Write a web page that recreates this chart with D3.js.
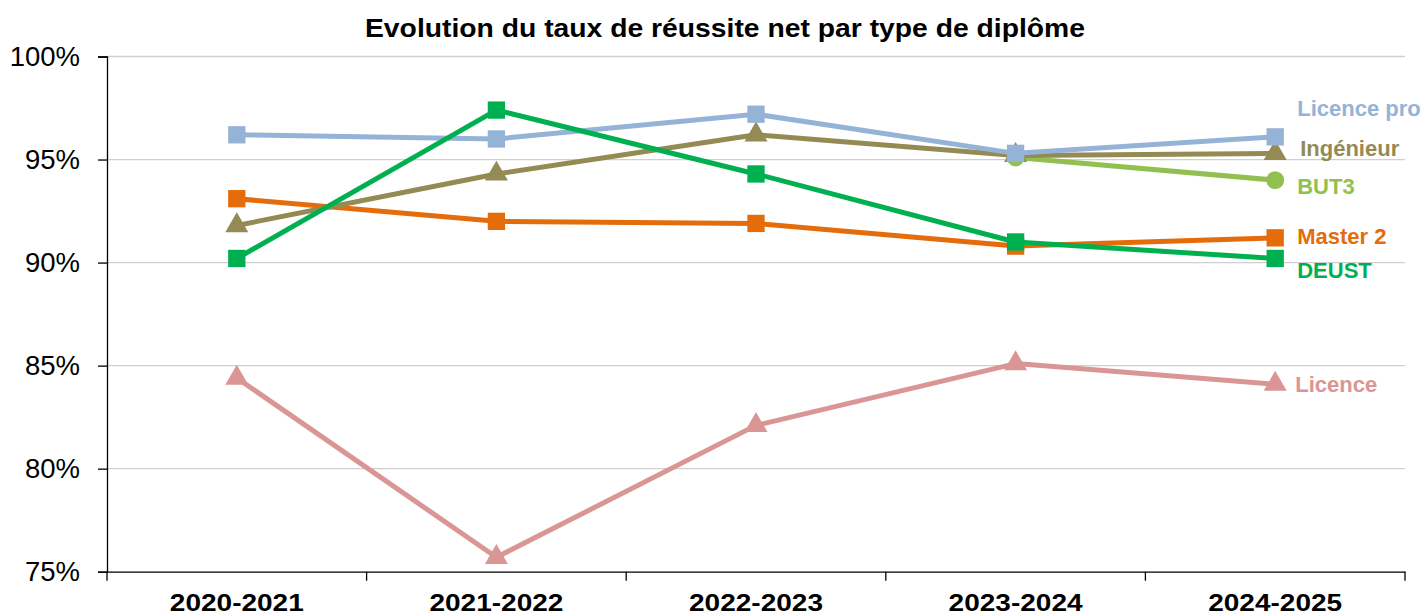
<!DOCTYPE html>
<html><head><meta charset="utf-8">
<script src="https://cdn.jsdelivr.net/npm/d3@7"></script>
<style>body{margin:0;background:#fff;font-family:Arial,"Liberation Sans",sans-serif;}</style>
</head><body><svg id="c" width="1421" height="616"></svg>
<script>
const categories = ["2020-2021","2021-2022","2022-2023","2023-2024","2024-2025"];
const licencePro = [96.2, 96.0, 97.2, 95.3, 96.1];
const ingenieur = [91.8, 94.3, 96.2, 95.2, 95.3];
const but3 = [null, null, null, 95.1, 94.0];
const master2 = [93.1, 92.0, 91.9, 90.8, 91.2];
const deust = [90.2, 97.4, 94.3, 91.0, 90.2];
const licence = [84.4, 75.7, 82.1, 85.1, 84.1];
const yTicks = [75, 80, 85, 90, 95, 100];

const series = [
  {name:"Licence pro", values:licencePro, color:"#95B3D7", marker:"square", labelDy:-21, labelDx:22},
  {name:"Ingénieur", values:ingenieur, color:"#948A54", marker:"triangle", labelDy:2.5, labelDx:25},
  {name:"BUT3", values:but3, color:"#92C050", marker:"circle", labelDy:14, labelDx:22},
  {name:"Master 2", values:master2, color:"#E46C0A", marker:"square", labelDy:6, labelDx:22},
  {name:"DEUST", values:deust, color:"#00B050", marker:"square", labelDy:20, labelDx:22},
  {name:"Licence", values:licence, color:"#D99694", marker:"triangle", labelDy:8, labelDx:20}
];

const svg = d3.select("#c");
const mLeft = 107, mRight = 1405, mTop = 56.5, mBottom = 571.7;
const x = d3.scaleBand().domain(categories).range([mLeft, mRight]);
const y = d3.scaleLinear().domain([75, 100]).range([mBottom, mTop]);

svg.append("text").attr("x", 725).attr("y", 37).attr("text-anchor","middle")
  .attr("font-size", 26).attr("font-weight","bold").attr("fill","#000")
  .attr("textLength", 720).attr("lengthAdjust","spacingAndGlyphs")
  .text("Evolution du taux de réussite net par type de diplôme");

// gridlines
svg.append("g").selectAll("line").data(yTicks.filter(t=>t>75)).join("line")
  .attr("x1", mLeft).attr("x2", mRight).attr("y1", d=>y(d)).attr("y2", d=>y(d))
  .attr("stroke","#d0d0d0").attr("stroke-width",1.3);

// y axis
const ya = svg.append("g").attr("transform",`translate(${mLeft},0)`)
  .call(d3.axisLeft(y).tickValues(yTicks).tickFormat(d=>d+"%").tickSize(9).tickPadding(18));
ya.select(".domain").attr("stroke","#000").attr("stroke-width",1.3);
ya.selectAll(".tick line").attr("stroke","#000").attr("stroke-width",1.3);
ya.selectAll("text").attr("font-size",27.5).attr("font-family","Arial, Liberation Sans, sans-serif").attr("fill","#000");

// x axis
const xa = svg.append("g").attr("transform",`translate(0,${mBottom})`)
  .call(d3.axisBottom(x).tickSize(0).tickPadding(0));
xa.select(".domain").attr("stroke","#000").attr("stroke-width",1.3);
xa.selectAll("text").attr("dy",null).attr("y",39.5).attr("font-size",23).attr("font-weight","bold")
  .attr("font-family","Arial, Liberation Sans, sans-serif").attr("fill","#000")
  .attr("textLength",134).attr("lengthAdjust","spacingAndGlyphs");
const bounds = categories.map(c=>x(c)).concat([mRight]);
svg.append("g").selectAll("line").data(bounds).join("line")
  .attr("x1",d=>d).attr("x2",d=>d).attr("y1",mBottom).attr("y2",mBottom+9)
  .attr("stroke","#000").attr("stroke-width",1.3);

const cx = c => x(c) + x.bandwidth()/2;
const line = d3.line().defined(d=>d.v!=null).x(d=>cx(d.c)).y(d=>y(d.v));

const order = ["Licence","Master 2","BUT3","Ingénieur","Licence pro","DEUST"];
const sorted = order.map(n=>series.find(s=>s.name===n));
sorted.forEach(s=>{
  const pts = categories.map((c,i)=>({c, v:s.values[i]}));
  const g = svg.append("g");
  g.append("path").attr("d", line(pts)).attr("fill","none").attr("stroke", s.color)
    .attr("stroke-width",5).attr("stroke-linejoin","round");
  const valid = pts.filter(p=>p.v!=null);
  let sym;
  if (s.marker==="square") sym = d3.symbol().type(d3.symbolSquare).size(300);
  else if (s.marker==="triangle") sym = d3.symbol().type(d3.symbolTriangle).size(230);
  else sym = d3.symbol().type(d3.symbolCircle).size(250);
  g.selectAll("path.m").data(valid).join("path").attr("class","m")
    .attr("d", sym).attr("transform", p=>`translate(${cx(p.c)},${y(p.v)})`)
    .attr("fill", s.color);
});

// labels
series.forEach(s=>{
  const last = s.values[s.values.length-1];
  svg.append("text").attr("x", cx(categories[4]) + s.labelDx)
    .attr("y", y(last) + s.labelDy).attr("font-size",22).attr("font-weight","bold")
    .attr("fill", s.color).text(s.name);
});
</script></body></html>
